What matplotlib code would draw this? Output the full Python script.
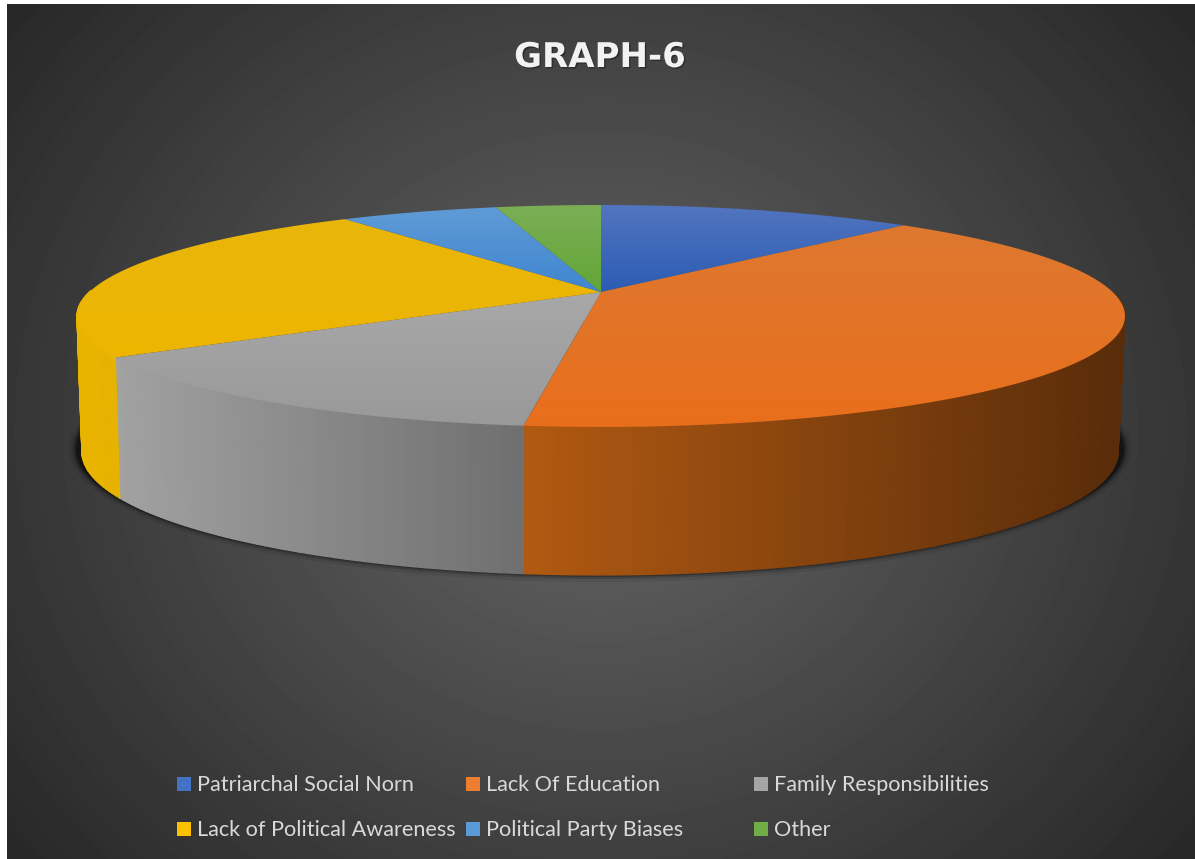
#!/usr/bin/env python3
"""GRAPH-6: 3D looking pie on a dark background, drawn in pixel coordinates."""

import numpy as np
import matplotlib
matplotlib.use('Agg')
import matplotlib.pyplot as plt
import matplotlib.patheffects as pe
from matplotlib.colors import to_rgb
from matplotlib.patches import Ellipse, Polygon, Rectangle

# Data (percent)
labels = ['Patriarchal Social Norn', 'Lack Of Education', 'Family Responsibilities',
          'Lack of Political Awareness', 'Political Party Biases', 'Other']
values = [12, 39.9, 13.9, 24.2, 6, 4]

# Style per slice
legend_colors = ['#4472C4', '#ED7D31', '#A5A5A5', '#FFC000', '#5B9BD5', '#70AD47']
top_back = ['#5275bf', '#de7830', '#a8a8a8', '#e8b60a', '#5f9bd6', '#7bae56']
top_front = ['#2c5cb4', '#e86f1c', '#999999', '#eeb500', '#3f85d0', '#62a637']
wall_left = ['#2a4475', '#b25a12', '#a2a2a2', '#e8b400', '#355f85', '#44692c']
wall_right = ['#2a4475', '#592c0a', '#707070', '#e2ae00', '#355f85', '#44692c']

WIDTH, HEIGHT = 1195, 859
LEFT_EDGE, TOP_EDGE = 7, 4

# Perspective of the disc: (u, v) on the unit circle -> pixel position
K = 0.216
TOP_PLANE = dict(x0=601, y0=292, q=511.6, p=105.8)
BOTTOM_PLANE = dict(x0=600, y0=425.4, q=505.8, p=117.2)


def project(theta, radius, plane):
    # theta in degrees, clockwise from the back of the pie
    t = np.radians(theta)
    u, v = radius * np.sin(t), radius * np.cos(t)
    w = 1 + K * v
    return plane['x0'] + plane['q'] * u / w, plane['y0'] - plane['p'] * v / w


fig = plt.figure(figsize=(WIDTH / 100, HEIGHT / 100), dpi=100, facecolor='white')
ax = fig.add_axes([0, 0, 1, 1])
ax.axis('off')

# Background: radial gradient
yy, xx = np.mgrid[TOP_EDGE:HEIGHT, LEFT_EDGE:WIDTH]
dist = np.sqrt(((xx - 600) / 620.0) ** 2 + ((yy - 430) / 560.0) ** 2)
shade = np.clip(0.40 - 0.20 * dist, 0.16, 1)
ax.imshow(shade, cmap='gray', vmin=0, vmax=1, aspect='auto', zorder=0,
          extent=(LEFT_EDGE, WIDTH, HEIGHT, TOP_EDGE), interpolation='bilinear')

# Shadow under the pie
for grow, alpha in [(9, 0.08), (6, 0.15), (4, 0.25), (2, 0.4)]:
    ax.add_patch(Ellipse((600, 449), 2 * (522 + grow), 2 * (124 + grow), fc='black',
                         ec='none', alpha=alpha, zorder=1))

edges = np.concatenate([[0], np.cumsum(values)]) / np.sum(values) * 360.0

# Walls, one narrow strip at a time
for i in range(len(values)):
    steps = np.arange(edges[i], edges[i + 1], 1.0)
    steps = np.append(steps, edges[i + 1])
    tx, ty = project(steps, 1.0, TOP_PLANE)
    bx, by = project(steps, 1.0, BOTTOM_PLANE)
    c0, c1 = np.array(to_rgb(wall_left[i])), np.array(to_rgb(wall_right[i]))
    x_min, x_max = tx.min(), tx.max()
    for j in range(len(steps) - 1):
        if np.cos(np.radians(steps[j])) > 0:
            continue
        f = (tx[j] - x_min) / max(x_max - x_min, 1)
        col = c0 + (c1 - c0) * f
        ax.add_patch(Polygon([(tx[j], ty[j]), (tx[j + 1], ty[j + 1]),
                              (bx[j + 1], by[j + 1]), (bx[j], by[j])],
                             fc=col, ec=col, lw=1.0, zorder=2))

# Top faces, vertical gradient clipped to each wedge
for i in range(len(values)):
    steps = np.arange(edges[i], edges[i + 1], 0.5)
    steps = np.append(steps, edges[i + 1])
    rx, ry = project(steps, 1.0, TOP_PLANE)
    ax0, ay0 = project(0.0, 0.0, TOP_PLANE)
    verts = np.column_stack([np.append(rx, ax0), np.append(ry, ay0)])
    wedge = Polygon(verts, closed=True, fc='none', ec='none', transform=ax.transData)
    ax.add_patch(wedge)
    c0, c1 = np.array(to_rgb(top_back[i])), np.array(to_rgb(top_front[i]))
    ramp = np.linspace(0, 1, 64)[:, None, None]
    grad = c0[None, None, :] + (c1 - c0)[None, None, :] * ramp
    im = ax.imshow(grad, aspect='auto', zorder=3, interpolation='bilinear',
                   extent=(verts[:, 0].min(), verts[:, 0].max(),
                           verts[:, 1].max(), verts[:, 1].min()))
    im.set_clip_path(wedge)

ax.set_xlim(0, WIDTH)
ax.set_ylim(HEIGHT, 0)

# Title
ax.text(600, 67, 'GRAPH-6', ha='center', va='baseline', fontsize=24.5, fontweight='bold',
        family='DejaVu Sans', color='#f2f2f2', zorder=5,
        path_effects=[pe.withSimplePatchShadow(offset=(1, -1), shadow_rgbFace='black', alpha=0.35)])

# Legend, laid out by hand to keep the uneven columns
legend_x = [177, 466, 754]
legend_y = [784, 829]
for i, (lab, col) in enumerate(zip(labels, legend_colors)):
    x = legend_x[i % 3]
    y = legend_y[i // 3]
    ax.add_patch(Rectangle((x, y - 7), 14, 14, fc=col, ec='none', zorder=5))
    ax.text(x + 20, y + 1, lab, ha='left', va='center', fontsize=15.6, family='Lato',
            color='#d9d9d9', zorder=5)

fig.savefig('out.png', dpi=100, facecolor='white')
plt.close(fig)
